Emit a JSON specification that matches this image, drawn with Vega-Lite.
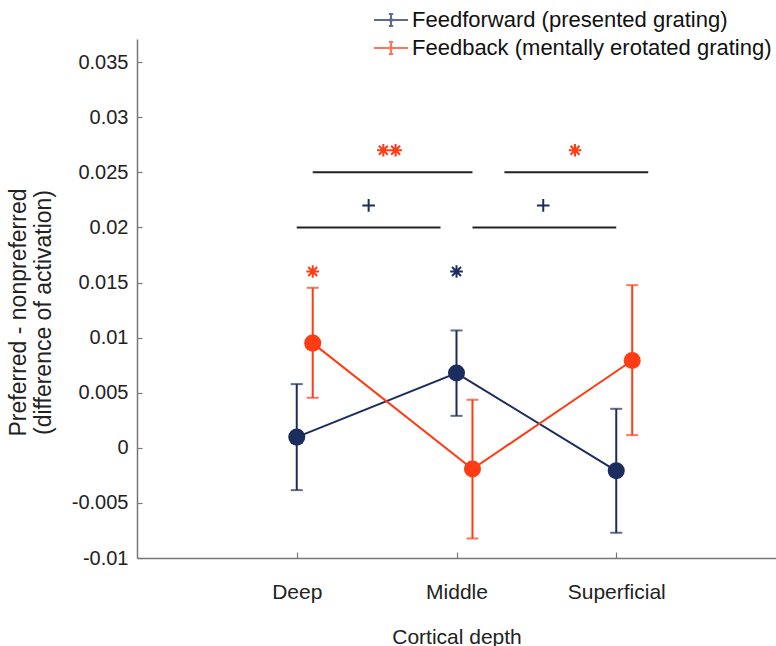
{
  "$schema": "https://vega.github.io/schema/vega-lite/v6.json",
  "width": 639,
  "height": 519,
  "autosize": {"type": "none"},
  "padding": {"left": 137, "top": 39, "right": 0, "bottom": 88},
  "background": "white",
  "config": {
    "view": {"stroke": null},
    "font": "Liberation Sans",
    "axis": {"grid": false, "domainColor": "#777777", "tickColor": "#777777", "labelColor": "#222222", "titleColor": "#222222", "titleFontWeight": "normal", "domainWidth": 1.5, "tickWidth": 1.2}
  },
  "datasets": {
    "stats": [
      {"series": "Feedforward (presented grating)", "pos": 1.0, "mean": 0.00097, "lo": -0.00384, "hi": 0.00578},
      {"series": "Feedforward (presented grating)", "pos": 2.0, "mean": 0.00678, "lo": 0.0029, "hi": 0.01065},
      {"series": "Feedforward (presented grating)", "pos": 3.0, "mean": -0.00209, "lo": -0.00771, "hi": 0.00354},
      {"series": "Feedback (mentally erotated grating)", "pos": 1.1, "mean": 0.0095, "lo": 0.00454, "hi": 0.01452},
      {"series": "Feedback (mentally erotated grating)", "pos": 2.1, "mean": -0.00193, "lo": -0.00823, "hi": 0.00436},
      {"series": "Feedback (mentally erotated grating)", "pos": 3.1, "mean": 0.00792, "lo": 0.00115, "hi": 0.01476}
    ],
    "sig": [
      {"from": 1.1, "to": 2.1, "level": 0.025},
      {"from": 2.3, "to": 3.2, "level": 0.025},
      {"from": 1.0, "to": 1.9, "level": 0.02},
      {"from": 2.1, "to": 3.0, "level": 0.02}
    ],
    "marks": [
      {"series": "Feedback (mentally erotated grating)", "sym": "ast", "mx": 1.1, "my": 0.016},
      {"series": "Feedforward (presented grating)", "sym": "ast", "mx": 2.0, "my": 0.016},
      {"series": "Feedback (mentally erotated grating)", "sym": "ast", "mx": 1.542, "my": 0.027},
      {"series": "Feedback (mentally erotated grating)", "sym": "ast", "mx": 1.619, "my": 0.027},
      {"series": "Feedback (mentally erotated grating)", "sym": "ast", "mx": 2.742, "my": 0.027},
      {"series": "Feedforward (presented grating)", "sym": "plus", "mx": 1.45, "my": 0.022},
      {"series": "Feedforward (presented grating)", "sym": "plus", "mx": 2.543, "my": 0.022}
    ]
  },
  "layer": [
    {
      "mark": {"type": "rule", "color": "#555555", "strokeWidth": 1.5},
      "encoding": {
        "y": {"datum": 0, "type": "quantitative", "scale": {"domain": [-0.01, 0.0371], "nice": false, "zero": false},
          "axis": {"values": [-0.01, -0.005, 0, 0.005, 0.01, 0.015, 0.02, 0.025, 0.03, 0.035], "labelExpr": "'' + datum.value", "tickSize": -5, "labelPadding": 14, "labelFontSize": 20,
            "title": ["Preferred - nonpreferred", "(difference of activation)"], "titleFontSize": 23, "titlePadding": 16, "titleLineHeight": 25, "titleY": 273}}
      }
    },
    {
      "data": {"name": "sig"},
      "mark": {"type": "rule", "color": "#222222", "strokeWidth": 2},
      "encoding": {
        "x": {"field": "from", "type": "quantitative"},
        "x2": {"field": "to"},
        "y": {"field": "level", "type": "quantitative"}
      }
    },
    {
      "data": {"name": "stats"},
      "mark": {"type": "rule", "strokeWidth": 2},
      "encoding": {
        "x": {"field": "pos", "type": "quantitative", "scale": {"domain": [0, 4], "nice": false, "zero": false},
          "axis": {"values": [1, 2, 3], "labelExpr": "datum.value == 1 ? 'Deep' : datum.value == 2 ? 'Middle' : 'Superficial'", "tickSize": -6, "labelPadding": 29, "labelFontSize": 21,
            "title": "Cortical depth", "titleFontSize": 21, "titlePadding": 24}},
        "y": {"field": "lo", "type": "quantitative"},
        "y2": {"field": "hi"},
        "color": {"field": "series", "type": "nominal",
          "scale": {"domain": ["Feedforward (presented grating)", "Feedback (mentally erotated grating)"], "range": ["#1b2d5e", "#ff3c14"]},
          "legend": {"orient": "none", "legendX": 243, "legendY": -30, "title": null, "padding": 0, "rowPadding": 6,
            "symbolType": "M-1.7,0L1.7,0M0,-0.6L0,0.6M-0.22,-0.6L0.22,-0.6M-0.22,0.6L0.22,0.6M0.12,0A0.12,0.12,0,1,1,-0.12,0A0.12,0.12,0,1,1,0.12,0",
            "symbolSize": 400, "symbolStrokeWidth": 2, "labelFontSize": 22, "labelColor": "#111111", "labelOffset": 10, "labelLimit": 500}}
      }
    },
    {
      "data": {"name": "stats"},
      "mark": {"type": "tick", "orient": "horizontal", "size": 12, "thickness": 2},
      "encoding": {
        "x": {"field": "pos", "type": "quantitative"},
        "y": {"field": "lo", "type": "quantitative"},
        "color": {"field": "series", "type": "nominal"}
      }
    },
    {
      "data": {"name": "stats"},
      "mark": {"type": "tick", "orient": "horizontal", "size": 12, "thickness": 2},
      "encoding": {
        "x": {"field": "pos", "type": "quantitative"},
        "y": {"field": "hi", "type": "quantitative"},
        "color": {"field": "series", "type": "nominal"}
      }
    },
    {
      "data": {"name": "stats"},
      "mark": {"type": "line", "strokeWidth": 2},
      "encoding": {
        "x": {"field": "pos", "type": "quantitative"},
        "y": {"field": "mean", "type": "quantitative"},
        "color": {"field": "series", "type": "nominal"}
      }
    },
    {
      "data": {"name": "stats"},
      "mark": {"type": "circle", "size": 290, "opacity": 1},
      "encoding": {
        "x": {"field": "pos", "type": "quantitative"},
        "y": {"field": "mean", "type": "quantitative"},
        "color": {"field": "series", "type": "nominal"}
      }
    },
    {
      "data": {"name": "marks"},
      "mark": {"type": "point", "filled": false, "strokeWidth": 2, "size": 160, "opacity": 1},
      "encoding": {
        "x": {"field": "mx", "type": "quantitative"},
        "y": {"field": "my", "type": "quantitative"},
        "color": {"field": "series", "type": "nominal"},
        "shape": {"field": "sym", "type": "nominal", "legend": null,
          "scale": {"domain": ["ast", "plus"], "range": ["M0,-1L0,1M-1,0L1,0M-0.707,-0.707L0.707,0.707M-0.707,0.707L0.707,-0.707", "M-1,0L1,0M0,-1L0,1"]}}
      }
    }
  ]
}
